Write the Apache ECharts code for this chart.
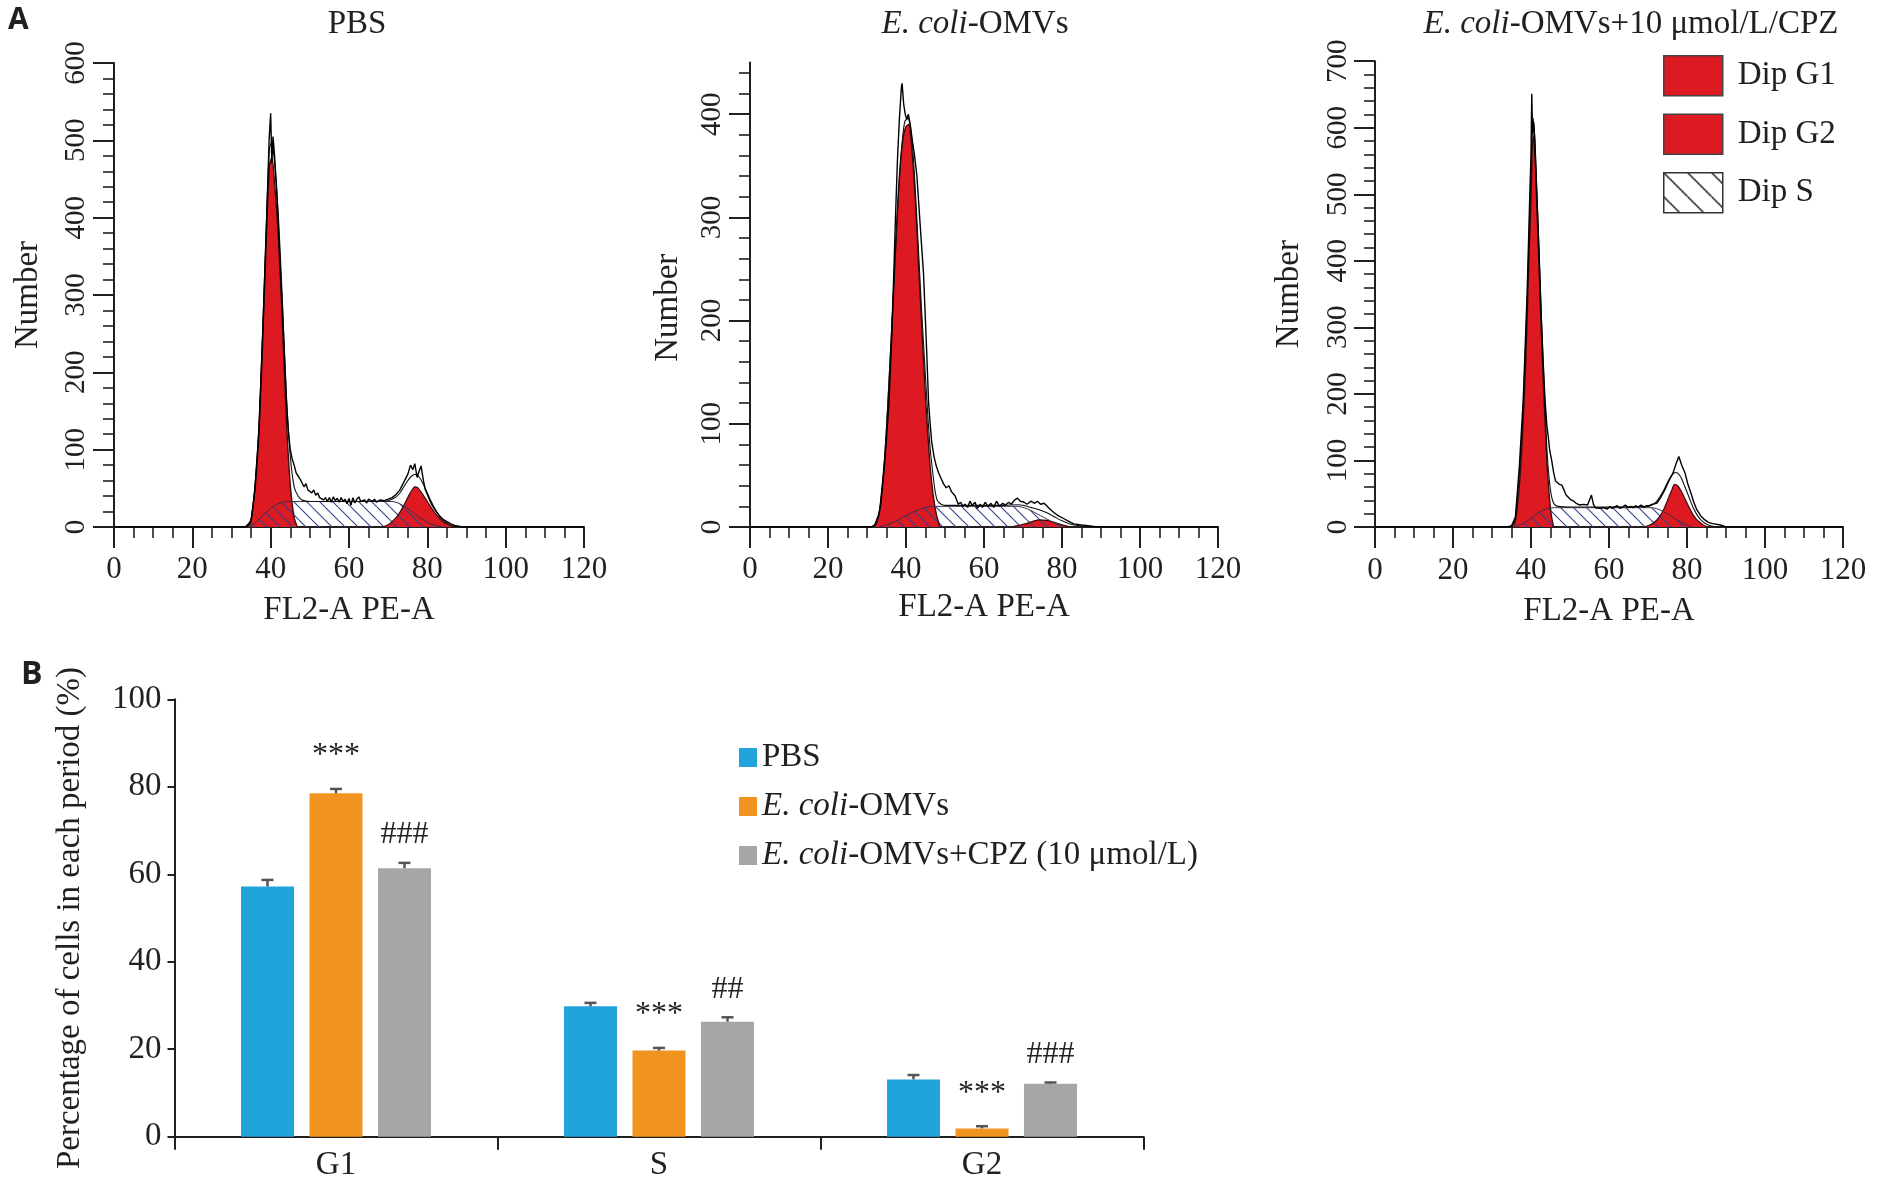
<!DOCTYPE html>
<html lang="en">
<head>
<meta charset="UTF-8">
<title>Cell cycle distribution</title>
<style>
  html, body { margin: 0; padding: 0; background: #fff; }
  #main { width: 1883px; height: 1182px; }
</style>
</head>
<body>
<div id="main"></div>
<script src="https://cdn.jsdelivr.net/npm/echarts@6.0.0/dist/echarts.min.js"></script>
<script>
// ---------- panel A: flow cytometry histograms, [channel, count] ----------
var pbsG1 = [[33.5,0],[34.5,2],[35,8],[36,49],[37,120],[38,245],[39,390],[39.7,468],[40.3,478],[41,445],[42,372],[43,262],[44,140],[45,55],[46,12],[46.8,0]];
var pbsG2 = [[68.5,0],[70,3],[71,7],[72,12],[73,19],[74,28],[75,38],[76,47],[76.8,52],[77.5,51],[78,48],[79,41],[80,33],[81,25],[82,18],[83,12],[84,7],[85,4],[86,2],[87,0]];
var pbsS = [[34,0],[35,2],[36,5],[37,10],[38,15],[39,20],[40,24],[41,28],[42,30],[43,32],[44.5,33],[50,33],[55,33],[60,33],[65,33],[71,33],[72,32],[73,30],[74,27],[75,24],[76,20],[77,16],[78,12],[79,9],[80,6],[81,4],[82,2],[83,1],[84,0]];
var pbsFit = [[33.5,0],[35,10],[36,54],[37,130],[38,260],[39,410],[39.7,490],[40.3,498],[41,470],[42,400],[43,292],[44,172],[45,92],[46,52],[47,40],[48,35],[50,33],[60,33],[70,34],[71,36],[72,39],[73,44],[74,52],[75,60],[76,66],[77,68],[78,64],[79,55],[80,44],[81,33],[82,23],[83,15],[84,9],[85,5],[86,2],[88,0]];
var pbsRaw = [[0,0],[33,0],[34,1],[35,8],[36,50],[37,125],[38,255],[39,400],[39.6,500],[40,535],[40.3,470],[40.6,505],[41,480],[41.5,440],[42,385],[43,280],[44,165],[44.5,125],[45,100],[45.5,88],[46,80],[46.5,70],[47,66],[47.5,62],[48,60],[48.5,52],[49,56],[49.5,48],[50,50],[50.5,44],[51,48],[51.5,41],[52,44],[52.5,38],[53,40],[53.5,35],[54,38],[54.5,33],[55,38],[55.5,32],[56,39],[56.5,34],[57,37],[57.5,32],[58,38],[58.5,33],[59,36],[59.5,30],[60,37],[60.5,28],[61,38],[61.5,31],[62,36],[62.5,39],[63,33],[64,35],[64.5,31],[65,36],[66,33],[66.5,36],[67,32],[68,35],[69,34],[70,36],[71,38],[72,42],[73,48],[74,58],[75,68],[75.7,80],[76.3,74],[76.8,82],[77.4,64],[77.9,72],[78.4,79],[79,60],[79.5,48],[80,42],[81,30],[82,22],[83,15],[84,10],[85,7],[86,4],[87,2],[88,1],[89,0],[120,0]];

var omvG1 = [[31.8,0],[32.5,4],[33.2,15],[33.9,40],[34.6,70],[35.3,115],[36,165],[36.8,225],[37.7,300],[38.5,350],[39.3,378],[40,388],[40.7,390],[41.3,375],[42,340],[42.5,310],[43.2,255],[44.1,190],[45,125],[45.6,90],[46.2,58],[47,30],[47.8,12],[48.7,0]];
var omvG2 = [[67,0],[69,1.5],[71,3.5],[72.5,5.5],[74.2,7],[76,6.5],[78,4.5],[80,2],[82,0]];
var omvS = [[33,0],[35,2],[37,5],[39,9],[41,13],[43,16.5],[45,19],[46.5,20],[50,20],[55,20],[60,20],[65,20],[68.5,20],[70,19],[71.5,17],[73,14],[74.5,11],[76,8],[77.5,5],[79,2.5],[80.5,0]];
var omvFit = [[31.8,0],[33,12],[34,42],[35,95],[36,168],[37,245],[38,318],[39,372],[39.7,393],[40.5,396],[41.3,383],[42,352],[43,283],[44,210],[45,145],[45.6,108],[46.2,76],[47,48],[47.5,34],[48,26],[49,22],[50,21],[55,21],[60,21],[65,21],[68.5,21.5],[70,21],[72,19],[74,17],[76,14],[78,10],[80,6],[82,3],[84,1.5],[86,0.5],[88,0]];
var omvRaw = [[0,0],[31,0],[32,2],[33,12],[33.5,21],[34.5,60],[35.6,118],[36.3,180],[36.9,250],[37.3,300],[37.8,355],[38.3,395],[38.8,425],[39,430],[39.4,410],[39.8,400],[40.2,395],[40.6,400],[41.1,390],[41.6,375],[42.2,360],[42.8,340],[43.5,300],[44.5,245],[45.2,180],[45.8,120],[46.2,100],[46.6,82],[47.2,68],[47.7,60],[48.3,53],[49,47],[49.6,42],[50.3,38],[51,40],[51.7,34],[52.6,30],[53.4,22],[54,24],[54.6,20],[55.1,22],[55.8,19],[56.4,25],[57,21],[57.7,24],[58.3,18],[59,22],[59.6,19],[60.3,24],[61,20],[61.8,23],[62.5,19],[63.2,25],[64,20],[64.8,23],[65.5,21],[66.3,24],[67,22],[67.8,26],[68.6,28],[69.3,25],[70.3,24],[71,22],[72,25],[73,23],[73.7,25],[74.5,22],[75.4,23],[76.2,20],[77,17],[77.9,14],[79,11],[80.5,8],[82,5],[83,3],[85,2],[87.2,1],[89,0],[120,0]];

var cpzG1 = [[35,0],[35.8,5],[36.5,30],[37.3,85],[38,160],[38.6,240],[39.1,330],[39.5,410],[40,490],[40.5,590],[41,560],[41.5,480],[42.1,385],[42.6,300],[43.1,225],[43.6,160],[44.1,95],[44.7,45],[45.2,18],[45.8,0]];
var cpzG2 = [[69,0],[70.5,3],[72,9],[73,16],[74,26],[75,40],[76,54],[76.8,64],[77.6,62],[78.5,54],[79.5,42],[80.5,30],[81.5,19],[82.5,11],[83.5,6],[84.5,2],[85.5,0]];
var cpzS = [[35.5,0],[37,3],[38.5,7],[40,13],[41.5,20],[43,25],[44.5,28],[46,29],[50,29],[55,29],[60,29],[65,29],[71,29],[72.5,27],[74,23],[75.5,18],[77,12],[78.5,7],[80,3],[81.5,0]];
var cpzFit = [[35,0],[36,12],[37,80],[38,180],[39,340],[39.6,450],[40.1,560],[40.5,615],[40.9,590],[41.5,505],[42.1,410],[42.6,325],[43.1,250],[43.6,180],[44.1,115],[44.7,70],[45.3,45],[46,34],[47,31],[50,30],[60,30],[70,31],[71,33],[72,37],[73,45],[74,55],[75,67],[76,77],[77,82],[77.6,81],[78.5,74],[79.5,60],[80.5,45],[81.5,30],[82.5,19],[83.5,11],[84.5,6],[85.5,3],[86.5,1],[88,0]];
var cpzRaw = [[0,0],[34,0],[35,2],[36,15],[37,90],[38,190],[39,350],[39.6,480],[40,560],[40.2,651],[40.4,590],[40.7,608],[41,580],[41.5,500],[42.1,405],[42.6,320],[43.1,250],[43.6,190],[44.1,150],[44.4,137],[44.8,115],[45.3,100],[45.8,82],[46.3,69],[46.8,66],[47.3,64],[47.9,63],[48.5,55],[49,48],[49.4,45],[50,42],[50.5,40],[50.9,39],[51.5,36],[52,37],[52.5,33],[53,32],[53.5,34],[54,31],[54.5,33],[55,35],[55.5,48],[56,34],[56.5,29],[57,31],[57.5,28],[58,31],[58.5,29],[59,30],[59.6,27],[60.2,31],[60.8,28],[61.4,30],[62.1,32],[62.8,28],[63.5,30],[64.2,33],[65,29],[65.6,31],[66.2,29],[66.8,32],[67.5,30],[68.2,33],[69,30],[69.7,32],[70.3,32],[71,34],[72.3,36],[73.3,45],[74.4,57],[75.4,70],[76.4,81],[77.2,95],[77.9,106],[78.7,92],[79.5,81],[80.2,65],[81,51],[81.7,38],[82.5,26],[83.5,17],[84.5,11],[85.5,7],[86.6,5],[88.6,3],[90,0],[120,0]];

var histTitles = ['PBS', '{i|E. coli}-OMVs', '{i|E. coli}-OMVs+10 \u03bcmol/L/CPZ'];
var histMax = [600, 450, 700];
var histYTicks = [[0,100,200,300,400,500,600], [0,100,200,300,400], [0,100,200,300,400,500,600,700]];
var phaseLegend = ['Dip G1', 'Dip G2', 'Dip S'];

// ---------- panel B: percentage of cells in each phase ----------
var phases = ['G1', 'S', 'G2'];
var groups = ['PBS', 'E. coli-OMVs', 'E. coli-OMVs+CPZ (10 \u03bcmol/L)'];
var pbsPct = [57.2, 29.8, 13.1];
var omvPct = [78.5, 19.7, 1.9];
var cpzPct = [61.4, 26.3, 12.1];
var pbsErr = [1.5, 0.8, 1.0];
var omvErr = [1.0, 0.6, 0.5];
var cpzErr = [1.2, 1.0, 0.3];
var omvMarks = ['***', '***', '***'];
var cpzMarks = ['###', '##', '###'];

// ---------- style ----------
var SERIF = '"Liberation Serif", "Times New Roman", serif';
var SANS = '"Open Sans", "Liberation Sans", sans-serif';
var INK = '#231f20';
var RED = '#dd1a21';
var BAR_COLORS = ['#21a3dc', '#f0941f', '#a6a6a6'];
var BAR_W = 53, BAR_SP = 15.5;

function hatch(size, color, width) {
    var c = document.createElement('canvas');
    c.width = size; c.height = size;
    var g = c.getContext('2d');
    g.strokeStyle = color;
    g.lineWidth = width;
    g.beginPath();
    for (var k = -1; k <= 1; k++) {
        g.moveTo(k * size, 0);
        g.lineTo(k * size + size, size);
    }
    g.stroke();
    return { image: c, repeat: 'repeat' };
}
var plotHatch = hatch(13, '#34428a', 1.1);
var legendHatch = hatch(24, '#111', 1.4);

// grid boxes in px: [left, top, width, height]
var grids = [
    [114, 63, 470, 464],
    [750, 62.6, 468, 464.4],
    [1375, 61.2, 468, 465.8],
    [174.5, 699.3, 969, 437.4]
];
var yNameGap = [69, 65, 69.5];
var yNamePad = [0, [0, 26, 0, 0], 0];
var xNameGap = [67, 64, 68];
var yLabelMargin = [23, 23, 22];
var xLabelMargin = [27, 27, 28];
var titleX = [357, 975, 1631];

var serifText = function (size) {
    return { fontFamily: SERIF, fontSize: size, color: INK, fontWeight: 'normal' };
};
var italicRich = function (size) {
    return { i: { fontFamily: SERIF, fontSize: size, fontStyle: 'italic', color: INK } };
};

var xAxes = [], yAxes = [], series = [];
var panels = [
    [pbsG1, pbsG2, pbsS, pbsFit, pbsRaw],
    [omvG1, omvG2, omvS, omvFit, omvRaw],
    [cpzG1, cpzG2, cpzS, cpzFit, cpzRaw]
];

panels.forEach(function (p, i) {
    xAxes.push({
        gridIndex: i, type: 'value', min: 0, max: 120, interval: 20,
        name: 'FL2-A PE-A', nameLocation: 'middle', nameGap: xNameGap[i],
        nameTextStyle: serifText(33),
        axisLine: { show: true, onZero: false, lineStyle: { color: INK, width: 2 } },
        axisTick: { show: true, length: 21, lineStyle: { color: INK, width: 2 } },
        minorTick: { show: true, splitNumber: 4, length: 11, lineStyle: { color: INK, width: 1.6 } },
        axisLabel: Object.assign(serifText(31), { margin: xLabelMargin[i] }),
        splitLine: { show: false }
    });
    yAxes.push({
        gridIndex: i, type: 'value', min: 0, max: histMax[i], interval: 100,
        name: 'Number', nameLocation: 'middle', nameGap: yNameGap[i],
        nameTextStyle: Object.assign(serifText(33), { padding: yNamePad[i] }),
        axisLine: { show: true, onZero: false, lineStyle: { color: INK, width: 2 } },
        axisTick: { show: true, length: 21, customValues: histYTicks[i], lineStyle: { color: INK, width: 2 } },
        minorTick: { show: true, splitNumber: 5, length: 11, lineStyle: { color: INK, width: 1.6 } },
        axisLabel: Object.assign(serifText(29), { rotate: 90, margin: yLabelMargin[i], customValues: histYTicks[i] }),
        splitLine: { show: false }
    });
    var base = { type: 'line', xAxisIndex: i, yAxisIndex: i, symbol: 'none', showSymbol: false, silent: true };
    series.push(Object.assign({}, base, {
        name: 'Dip G1', data: p[0], smooth: 0.25,
        lineStyle: { color: '#3d0b0b', width: 1.4 },
        areaStyle: { color: RED, opacity: 1 }
    }));
    series.push(Object.assign({}, base, {
        name: 'Dip G2', data: p[1], smooth: 0.25,
        lineStyle: { color: '#3d0b0b', width: 1.2 },
        areaStyle: { color: RED, opacity: 1 }
    }));
    series.push(Object.assign({}, base, {
        name: 'Dip S', data: p[2], smooth: 0.25,
        lineStyle: { color: '#3b2f4a', width: 1 },
        areaStyle: { color: plotHatch, opacity: 1 }
    }));
    series.push(Object.assign({}, base, {
        name: 'fit ' + i, data: p[3], smooth: 0.25,
        lineStyle: { color: '#111', width: 1.1 }
    }));
    series.push(Object.assign({}, base, {
        name: 'raw ' + i, data: p[4],
        lineStyle: { color: '#000', width: 1.4 }
    }));
});

// panel B axes
xAxes.push({
    gridIndex: 3, type: 'category', data: phases,
    axisLine: { show: true, lineStyle: { color: INK, width: 2 } },
    axisTick: { show: true, length: 13, lineStyle: { color: INK, width: 2 } },
    axisLabel: Object.assign(serifText(33), { margin: 12 })
});
yAxes.push({
    gridIndex: 3, type: 'value', min: 0, max: 100, interval: 20,
    name: 'Percentage of cells in each period (%)', nameLocation: 'middle', nameGap: 88,
    nameTextStyle: serifText(33),
    axisLine: { show: true, lineStyle: { color: INK, width: 2 } },
    axisTick: { show: true, length: 7, lineStyle: { color: INK, width: 2 } },
    axisLabel: Object.assign(serifText(33), { margin: 13 }),
    splitLine: { show: false }
});

[pbsPct, omvPct, cpzPct].forEach(function (vals, g) {
    series.push({
        type: 'bar', name: groups[g], xAxisIndex: 3, yAxisIndex: 3,
        data: vals, barWidth: BAR_W, barGap: (BAR_SP / BAR_W * 100).toFixed(1) + '%',
        itemStyle: { color: BAR_COLORS[g] }, silent: true
    });
});

function errSeries(g, vals, errs, marks) {
    return {
        type: 'custom', xAxisIndex: 3, yAxisIndex: 3, silent: true, z: 5, clip: false,
        data: vals.map(function (v, k) { return [k, v, errs[k]]; }),
        renderItem: function (params, api) {
            var k = api.value(0), v = api.value(1), e = api.value(2);
            var p0 = api.coord([k, v]);
            var p1 = api.coord([k, v + e]);
            var x = p0[0] + (g - 1) * (BAR_W + BAR_SP);
            var st = { stroke: '#555', lineWidth: 2.5 };
            var kids = [
                { type: 'line', shape: { x1: x, y1: p0[1], x2: x, y2: p1[1] }, style: st },
                { type: 'line', shape: { x1: x - 6, y1: p1[1], x2: x + 6, y2: p1[1] }, style: st }
            ];
            var m = marks ? marks[params.dataIndex] : '';
            if (m) {
                var lift = m.charAt(0) === '*' ? 33 : 28;
                kids.push({
                    type: 'text', x: x, y: p1[1] - lift,
                    style: { text: m, fontFamily: SERIF, fontSize: 32, fill: INK, align: 'center', verticalAlign: 'middle' }
                });
            }
            return { type: 'group', children: kids };
        }
    };
}
series.push(errSeries(0, pbsPct, pbsErr, null));
series.push(errSeries(1, omvPct, omvErr, omvMarks));
series.push(errSeries(2, cpzPct, cpzErr, cpzMarks));

var titles = [
    { text: 'A', left: 8, top: 5, padding: 0, textStyle: { fontFamily: SANS, fontWeight: 'bold', fontSize: 30, color: INK } },
    { text: 'B', left: 21, top: 659, padding: 0, textStyle: { fontFamily: SANS, fontWeight: 'bold', fontSize: 32, color: INK } }
];
histTitles.forEach(function (t, i) {
    titles.push({
        text: t, left: titleX[i], top: 8, padding: 0, textAlign: 'center',
        textStyle: Object.assign(serifText(33), { rich: italicRich(33) })
    });
});

var option = {
    animation: false,
    backgroundColor: '#fff',
    title: titles,
    grid: grids.map(function (b) {
        return { left: b[0], top: b[1], width: b[2], height: b[3], containLabel: false };
    }),
    xAxis: xAxes,
    yAxis: yAxes,
    legend: [
        {
            orient: 'vertical', left: 1663, top: 55, padding: 0, itemWidth: 59, itemHeight: 40, itemGap: 17,
            icon: 'rect', selectedMode: false,
            data: [
                { name: phaseLegend[0], itemStyle: { color: RED, borderColor: '#444', borderWidth: 1.5 } },
                { name: phaseLegend[1], itemStyle: { color: RED, borderColor: '#444', borderWidth: 1.5 } },
                { name: phaseLegend[2], itemStyle: { color: legendHatch, borderColor: '#333', borderWidth: 1.5 } }
            ],
            textStyle: Object.assign(serifText(33), { padding: [0, 0, 0, 10] })
        },
        {
            orient: 'vertical', left: 739, top: 741, padding: 0, itemWidth: 18, itemHeight: 19, itemGap: 16,
            icon: 'rect', selectedMode: false,
            data: groups,
            formatter: function (name) {
                return name.replace('E. coli', '{i|E. coli}');
            },
            textStyle: Object.assign(serifText(33), { rich: italicRich(33) })
        }
    ],
    series: series
};

var myChart = echarts.init(document.getElementById('main'));
myChart.setOption(option);
</script>
</body>
</html>
